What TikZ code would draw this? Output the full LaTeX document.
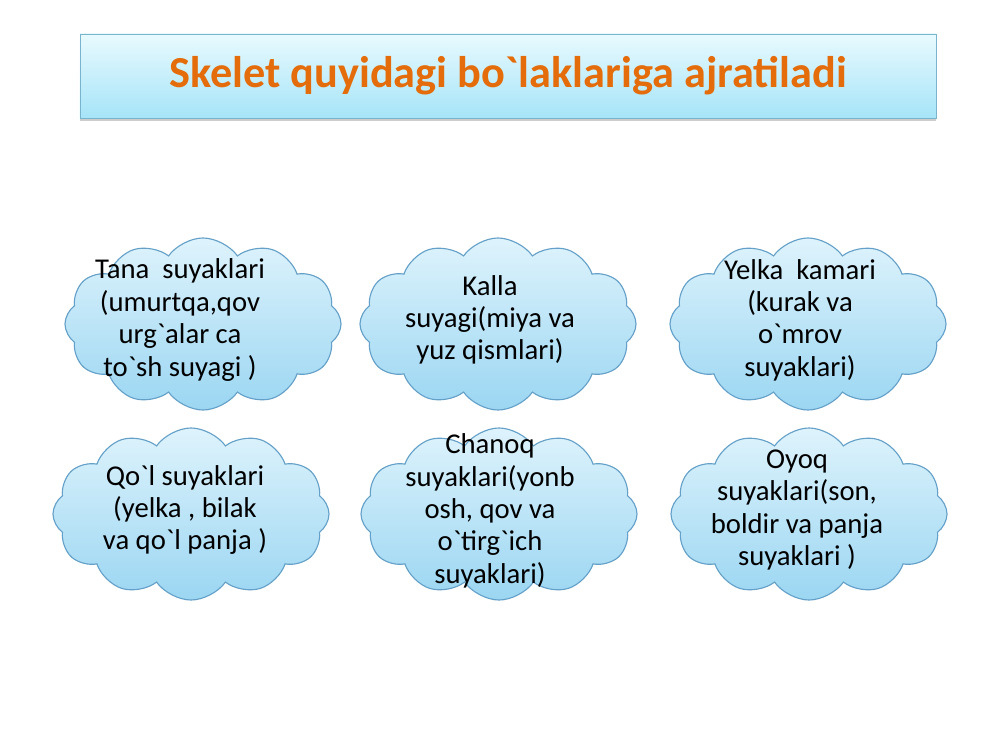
\documentclass[tikz,border=0pt]{standalone}
\usepackage{fontspec}
\setmainfont{Carlito}[Ligatures=TeXOff]
\usepackage{xcolor}
\usetikzlibrary{shapes,shapes.symbols,positioning,shadows}
\definecolor{ttltop}{RGB}{232,250,254}
\definecolor{ttlbot}{RGB}{166,228,248}
\definecolor{ttledge}{RGB}{120,180,205}
\definecolor{ttltext}{RGB}{228,108,10}
\definecolor{cldtop}{RGB}{222,243,252}
\definecolor{cldbot}{RGB}{155,214,242}
\definecolor{cldedge}{RGB}{100,160,200}

\begin{document}
\begin{tikzpicture}[
    x=0.025cm, y=-0.025cm,
    ttl/.style={rectangle, draw=ttledge, top color=ttltop, bottom color=ttlbot,
                minimum width=21.4cm, minimum height=2.1cm,
                drop shadow={shadow xshift=0pt, shadow yshift=-2pt, opacity=0.4},
                font=\fontsize{31.5}{36}\selectfont\bfseries, text=ttltext},
    cld/.style={cloud, cloud puffs=12, cloud puff arc=110, cloud ignores aspect,
                draw=cldedge, line width=0.8pt, top color=cldtop, bottom color=cldbot,
                minimum width=6.9cm, minimum height=4.3cm, inner sep=0pt},
    txt/.style={align=center, inner sep=0pt, font=\fontsize{20.4}{23}\selectfont},
  ]
  \useasboundingbox (0,0) rectangle (1000,750);

  % Title
  \node[ttl] (tt) at (508, 76) {\raisebox{-3pt}{Skelet quyidagi bo`laklariga ajratiladi}};

  % Clouds
  \node[cld] (c1) at (203, 324) {};
  \node[cld] (c2) at (498, 324) {};
  \node[cld] (c3) at (808, 324) {};
  \node[cld] (c4) at (191, 514) {};
  \node[cld] (c5) at (499, 514) {};
  \node[cld] (c6) at (809, 514) {};

  % Texts
  \node[txt] (t1) at (180, 320) {Tana\ \ suyaklari\\(umurtqa,qov\\urg`alar ca\\to`sh suyagi )};
  \node[txt] (t2) at (490, 320) {Kalla\\suyagi(miya va\\yuz qismlari)};
  \node[txt] (t3) at (800, 320) {Yelka\ \ kamari\\(kurak va\\o`mrov\\suyaklari)};
  \node[txt] (t4) at (185, 510) {Qo`l suyaklari\\(yelka , bilak\\va qo`l panja )};
  \node[txt] (t5) at (490, 511) {Chanoq\\suyaklari(yonb\\osh, qov va\\o`tirg`ich\\suyaklari)};
  \node[txt] (t6) at (797, 510) {Oyoq\\suyaklari(son,\\boldir va panja\\suyaklari )};
\end{tikzpicture}
\end{document}
